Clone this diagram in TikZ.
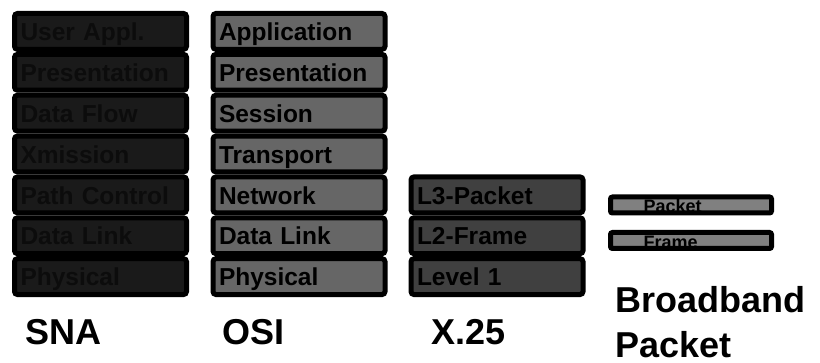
\documentclass[tikz,border=0pt]{standalone}
\usepackage{fontspec}
\setmainfont{Liberation Sans}
\usetikzlibrary{calc}

\definecolor{snafill}{HTML}{1A1A1A}
\definecolor{snatext}{HTML}{0C0C0C}
\definecolor{osifill}{HTML}{666666}
\definecolor{xfill}{HTML}{404040}
\definecolor{bbfill}{HTML}{808080}

\tikzset{
  layerbox/.style={rectangle, draw=black, line width=5pt, rounded corners=3pt,
    minimum width=172pt, minimum height=35.9pt, inner ysep=0pt, inner xsep=6pt,
    text width=160pt, align=left, text height=18.5pt, text depth=0pt,
    font=\fontsize{24.5}{24.5}\selectfont\bfseries},
  snarow/.style={layerbox, fill=snafill, text=snatext},
  osirow/.style={layerbox, fill=osifill, text=black},
  xrow/.style={layerbox, fill=xfill, text=black},
  bbbar/.style={rectangle, draw=black, line width=5pt, rounded corners=2pt,
    fill=bbfill, minimum width=161pt, minimum height=16pt, inner sep=0pt},
  bbtext/.style={anchor=base west, inner sep=0pt, text=black,
    font=\fontsize{18}{18}\selectfont\bfseries},
  stacklabel/.style={anchor=base west, inner sep=0pt, text=black,
    font=\fontsize{36}{45}\selectfont\bfseries}
}

\begin{document}
\begin{tikzpicture}[x=1pt,y=-1pt]
\useasboundingbox[fill=white] (0,0) rectangle (820,363);

% SNA stack
\foreach \t [count=\i from 0] in {User Appl.,Presentation,Data Flow,Xmission,Path Control,Data Link,Physical}
  \node[snarow] (sna\i) at (100.5,{11+40.86*(\i+0.5)}) {\t};

% OSI stack
\foreach \t [count=\i from 0] in {Application,Presentation,Session,Transport,Network,Data Link,Physical}
  \node[osirow] (osi\i) at (299,{11+40.86*(\i+0.5)}) {\t};

% X.25 stack
\foreach \t [count=\i from 4] in {L3-Packet,L2-Frame,Level 1}
  \node[xrow] (x\i) at (497,{11+40.86*(\i+0.5)}) {\t};

% Broadband packet bars, with labels clipped to the bar interior
\node[bbbar] (bbpk) at (691,205) {};
\begin{scope}
  \clip ($(bbpk.north west)+(2.5,2.5)$) rectangle ($(bbpk.south east)+(-2.5,-2.5)$);
  \node[bbtext] (bbpktxt) at ($(bbpk.south west)+(35.5,-2.5)$) {Packet};
\end{scope}

\node[bbbar] (bbfr) at (691,240.5) {};
\begin{scope}
  \clip ($(bbfr.north west)+(2.5,2.5)$) rectangle ($(bbfr.south east)+(-2.5,-2.5)$);
  \node[bbtext] (bbfrtxt) at ($(bbfr.south west)+(35.5,-2.5)$) {Frame};
\end{scope}

% Stack titles
\node[stacklabel] (snalbl) at (25,345) {SNA};
\node[stacklabel] (osilbl) at (222.5,345) {OSI};
\node[stacklabel] (xlbl) at (431.5,345) {X.25};
\node[stacklabel, align=left] (bblbl) at (615,357.5) {Broadband\\Packet};
\end{tikzpicture}
\end{document}
